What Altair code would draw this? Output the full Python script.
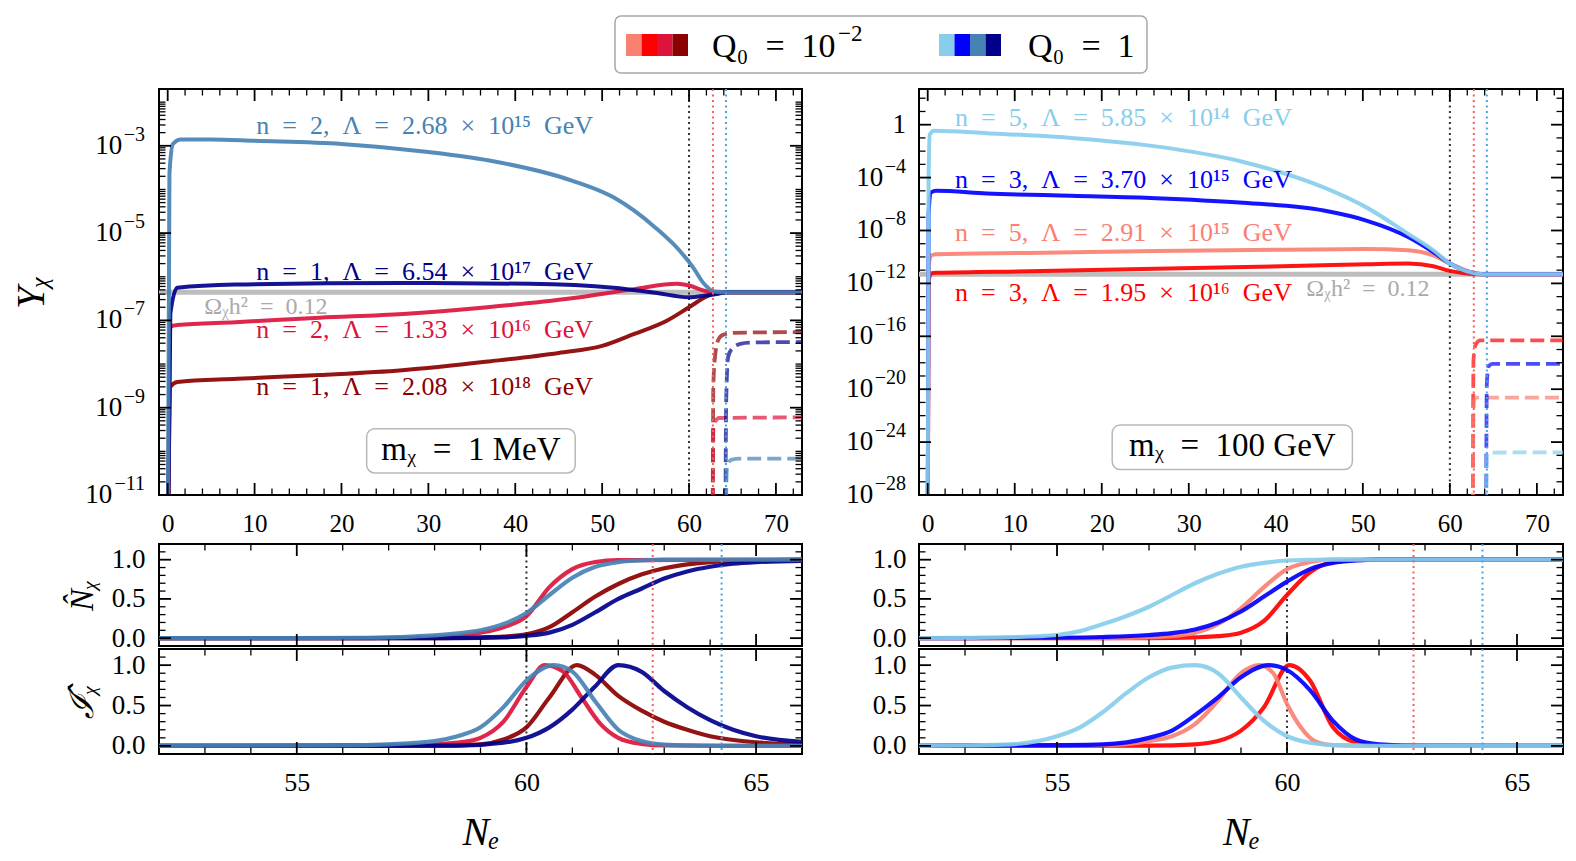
import altair as alt
import pandas as pd

# ----------------------------------------------------------------------------
# DATA
# ----------------------------------------------------------------------------
C_SALMON, C_RED, C_CRIMSON, C_DARKRED = "#FA8072", "#FF0000", "#DC143C", "#8B0000"
C_SKY, C_BLUE, C_STEEL, C_NAVY = "#87CEEB", "#0000FF", "#4682B4", "#00008B"
legend_colors_q2 = [C_SALMON, C_RED, C_CRIMSON, C_DARKRED]
legend_colors_q1 = [C_SKY, C_BLUE, C_STEEL, C_NAVY]

N_black, N_red, N_blue = 60.0, 62.75, 64.25

# ---- left column : m_chi = 1 MeV, top panel Y_chi ----
tl_omega = 4.4e-7
tl_darkred_N = [0.0, 0.3, 1.1, 8, 17.5, 27, 37, 45, 50, 53.7, 57.5, 60, 62.1, 63.5, 73]
tl_darkred_Y = [1e-13, 3.0e-9, 3.9e-9, 4.6e-9, 5.6e-9, 7.2e-9, 1.15e-8, 1.8e-8, 2.6e-8, 4.9e-8, 1.0e-7, 2.0e-7, 3.6e-7, 4.4e-7, 4.4e-7]
tl_crimson_N = [0.0, 0.3, 1.1, 7.8, 17.5, 27.1, 36.8, 46.5, 53.7, 58.6, 60, 61.9, 63.4, 64.5, 73]
tl_crimson_Y = [1e-13, 7.1e-8, 7.8e-8, 9.1e-8, 1.15e-7, 1.4e-7, 2.0e-7, 3.2e-7, 5.2e-7, 6.9e-7, 6.3e-7, 4.7e-7, 4.3e-7, 4.4e-7, 4.4e-7]
tl_navy_N = [0.0, 0.3, 1.1, 7.8, 27, 41.6, 51.3, 56.1, 60, 61.9, 63.4, 64.5, 73]
tl_navy_Y = [1e-13, 1.4e-7, 5.6e-7, 6.6e-7, 7.2e-7, 6.9e-7, 5.6e-7, 4.3e-7, 3.4e-7, 3.7e-7, 4.1e-7, 4.4e-7, 4.4e-7]
tl_steel_N = [0.0, 0.2, 0.6, 1.5, 5, 10, 20, 30, 37, 46.5, 51.3, 56.1, 59, 60.5, 61.7, 62.9, 64.3, 73]
tl_steel_Y = [1e-13, 2.2e-4, 1.1e-3, 1.4e-3, 1.4e-3, 1.3e-3, 1.1e-3, 7.2e-4, 4.6e-4, 1.6e-4, 6.6e-5, 1.35e-5, 3.8e-6, 1.6e-6, 7e-7, 4.6e-7, 4.4e-7, 4.4e-7]
tl_darkred_d_N = [62.70, 62.80, 63.07, 63.26, 63.84, 65.2, 73]
tl_darkred_d_Y = [1e-13, 3.5e-9, 2.0e-8, 3.2e-8, 4.6e-8, 5.2e-8, 5.4e-8]
tl_crimson_d_N = [62.70, 62.80, 63.07, 63.45, 73]
tl_crimson_d_Y = [1e-13, 3.1e-10, 5.0e-10, 5.8e-10, 6.0e-10]
tl_navy_d_N = [64.15, 64.28, 64.5, 64.9, 65.9, 67, 73]
tl_navy_d_Y = [1e-13, 1.5e-9, 1.45e-8, 2.2e-8, 2.9e-8, 3.1e-8, 3.2e-8]
tl_steel_d_N = [64.15, 64.35, 64.5, 64.9, 65.9, 73]
tl_steel_d_Y = [1e-13, 3.7e-11, 5.2e-11, 6.5e-11, 6.8e-11, 6.8e-11]

# ---- right column : m_chi = 100 GeV, top panel Y_chi ----
tr_omega = 5.0e-12
tr_red_N = [0.0, 0.1, 0.39, 0.97, 11.6, 26.2, 40.7, 50.4, 55.2, 58.1, 60, 62, 63.4, 73]
tr_red_Y = [1e-32, 1.3e-12, 5.6e-12, 6.3e-12, 8.3e-12, 1.26e-11, 2.0e-11, 2.8e-11, 3.2e-11, 2.0e-11, 8.9e-12, 5.6e-12, 5.0e-12, 5.0e-12]
tr_salmon_N = [0.0, 0.1, 0.39, 0.97, 11.6, 26.2, 40.7, 50.4, 55.2, 58.1, 60, 62, 63.4, 73]
tr_salmon_Y = [1e-32, 1.8e-11, 1.3e-10, 1.6e-10, 2.0e-10, 2.8e-10, 3.5e-10, 4.0e-10, 3.2e-10, 1.3e-10, 3.2e-11, 8.9e-12, 5.0e-12, 5.0e-12]
tr_blue_N = [0.0, 0.1, 0.39, 0.97, 6.8, 16.5, 26.2, 35.8, 45.5, 50.4, 55.2, 58.1, 60, 62, 63.9, 73]
tr_blue_Y = [1e-32, 1.8e-7, 7.6e-6, 1.0e-5, 6.3e-6, 4.2e-6, 2.8e-6, 1.3e-6, 3.2e-7, 5.6e-8, 3.2e-9, 2.3e-10, 3.2e-11, 7.9e-12, 5.0e-12, 5.0e-12]
tr_sky_N = [0.0, 0.1, 0.24, 0.73, 6.8, 16.5, 26.2, 35.8, 45.5, 50.4, 55.2, 58.1, 60, 62, 63.9, 73]
tr_sky_Y = [1e-32, 5.6e-5, 0.18, 0.35, 0.23, 0.1, 0.023, 1.8e-3, 1.8e-5, 5.6e-7, 5.6e-9, 3.2e-10, 3.2e-11, 7.9e-12, 5.0e-12, 5.0e-12]
tr_red_d_N = [62.62, 62.72, 62.96, 63.5, 73]
tr_red_d_Y = [1e-32, 1.7e-18, 2.3e-17, 5.0e-17, 5.0e-17]
tr_salmon_d_N = [62.62, 62.75, 62.96, 73]
tr_salmon_d_Y = [1e-32, 1e-21, 2.3e-21, 2.3e-21]
tr_blue_d_N = [64.15, 64.25, 64.45, 64.9, 73]
tr_blue_d_Y = [1e-32, 2.8e-20, 5.5e-19, 8.3e-19, 8.3e-19]
tr_sky_d_N = [64.15, 64.25, 64.4, 73]
tr_sky_d_Y = [1e-32, 8e-26, 1.6e-25, 1.7e-25]

# ---- left column, normalised number N-hat ----
bl_n_darkred_N = [52, 58, 59, 59.5, 60, 60.5, 61, 61.5, 62, 62.5, 63, 63.5, 64, 65, 66]
bl_n_darkred_V = [0, 0, 0.01, 0.02, 0.05, 0.14, 0.33, 0.53, 0.69, 0.81, 0.89, 0.94, 0.97, 0.99, 1.0]
bl_n_crimson_N = [52, 56, 57.5, 58.5, 59, 59.5, 60, 60.5, 61, 61.5, 62, 66]
bl_n_crimson_V = [0, 0, 0.005, 0.03, 0.07, 0.14, 0.28, 0.65, 0.88, 0.97, 0.995, 1.0]
bl_n_navy_N = [52, 58.5, 59.5, 60, 60.5, 61, 61.5, 62, 62.5, 63, 63.5, 64, 64.5, 65, 66]
bl_n_navy_V = [0, 0, 0.01, 0.03, 0.07, 0.17, 0.33, 0.5, 0.63, 0.76, 0.85, 0.91, 0.95, 0.97, 0.985]
bl_n_steel_N = [52, 55, 56.5, 57.5, 58, 58.5, 59, 59.5, 60, 60.5, 61, 61.5, 62, 62.5, 63, 66]
bl_n_steel_V = [0, 0, 0.005, 0.02, 0.035, 0.06, 0.1, 0.18, 0.32, 0.55, 0.77, 0.91, 0.97, 0.99, 1.0, 1.0]
# ---- left column, normalised rate I-hat ----
bl_i_darkred_N = [52, 58, 59, 59.5, 60, 60.5, 61.1, 61.5, 62, 62.5, 63, 63.5, 64, 65, 66]
bl_i_darkred_V = [0, 0.003, 0.02, 0.08, 0.23, 0.6, 1.0, 0.88, 0.62, 0.44, 0.3, 0.2, 0.12, 0.045, 0.02]
bl_i_crimson_N = [52, 57.5, 58.5, 59, 59.5, 60, 60.4, 60.8, 61.2, 61.6, 62, 62.5, 63, 66]
bl_i_crimson_V = [0, 0.005, 0.04, 0.1, 0.3, 0.73, 1.0, 0.92, 0.6, 0.28, 0.1, 0.025, 0.005, 0]
bl_i_navy_N = [52, 58.5, 59.5, 60, 60.5, 61, 61.5, 62, 62.5, 63, 63.5, 64, 64.5, 65, 66]
bl_i_navy_V = [0, 0.003, 0.04, 0.1, 0.23, 0.45, 0.74, 1.0, 0.92, 0.68, 0.48, 0.32, 0.2, 0.12, 0.05]
bl_i_steel_N = [52, 56, 57, 58, 58.5, 59, 59.5, 60, 60.6, 61, 61.5, 62, 62.5, 63, 64, 66]
bl_i_steel_V = [0, 0.005, 0.02, 0.06, 0.12, 0.23, 0.48, 0.81, 1.0, 0.92, 0.55, 0.2, 0.06, 0.015, 0.002, 0]

# ---- right column, normalised number N-hat ----
br_n_red_N = [52, 57, 58, 58.5, 59, 59.5, 60, 60.5, 61, 61.5, 62, 66]
br_n_red_V = [0, 0, 0.01, 0.025, 0.07, 0.22, 0.55, 0.84, 0.97, 0.995, 1.0, 1.0]
br_n_salmon_N = [52, 56, 57, 57.5, 58, 58.5, 59, 59.5, 60, 60.5, 61, 66]
br_n_salmon_V = [0, 0, 0.01, 0.025, 0.07, 0.18, 0.38, 0.65, 0.88, 0.97, 1.0, 1.0]
br_n_blue_N = [52, 54, 55, 56, 57, 57.5, 58, 58.5, 59, 59.5, 60, 60.5, 61, 61.5, 62, 66]
br_n_blue_V = [0, 0.002, 0.005, 0.015, 0.04, 0.065, 0.11, 0.2, 0.34, 0.53, 0.72, 0.88, 0.96, 0.99, 1.0, 1.0]
br_n_sky_N = [52, 53, 54, 55, 55.5, 56, 56.5, 57, 57.5, 58, 58.5, 59, 59.5, 60, 61, 66]
br_n_sky_V = [0, 0.003, 0.012, 0.04, 0.09, 0.18, 0.28, 0.4, 0.55, 0.7, 0.82, 0.91, 0.96, 0.99, 1.0, 1.0]
# ---- right column, normalised rate I-hat ----
br_i_red_N = [52, 57, 58, 58.5, 59, 59.5, 60.05, 60.5, 61, 61.5, 62, 66]
br_i_red_V = [0, 0.003, 0.02, 0.06, 0.19, 0.48, 1.0, 0.81, 0.23, 0.04, 0.005, 0]
br_i_salmon_N = [52, 56, 57, 57.5, 58, 58.5, 59, 59.4, 59.7, 60, 60.3, 60.6, 61, 62, 66]
br_i_salmon_V = [0, 0.01, 0.06, 0.12, 0.27, 0.56, 0.9, 1.0, 0.9, 0.52, 0.23, 0.06, 0.01, 0, 0]
br_i_blue_N = [52, 55, 56, 57, 57.5, 58, 58.5, 59, 59.6, 60, 60.5, 61, 61.5, 62, 63, 66]
br_i_blue_V = [0, 0.01, 0.02, 0.1, 0.19, 0.38, 0.6, 0.85, 1.0, 0.94, 0.69, 0.31, 0.08, 0.02, 0, 0]
br_i_sky_N = [52, 53, 54, 55, 55.5, 56, 56.5, 57, 57.5, 58, 58.5, 59, 59.5, 60, 60.5, 61, 62, 66]
br_i_sky_V = [0, 0.005, 0.02, 0.12, 0.23, 0.42, 0.65, 0.85, 0.97, 1.0, 0.9, 0.6, 0.31, 0.12, 0.04, 0.01, 0, 0]

SUP = str.maketrans("0123456789-", "⁰¹²³⁴⁵⁶⁷⁸⁹⁻")
EN = "\u2002"


def sup(v):
    return str(v).translate(SUP)


def lam_label(n, mant, ex):
    return f"n{EN}={EN}{n},{EN}Λ{EN}={EN}{mant}{EN}×{EN}10{sup(ex)}{EN}GeV"


tl_label_text = [lam_label(2, "2.68", 15), lam_label(1, "6.54", 17), lam_label(2, "1.33", 16), lam_label(1, "2.08", 18)]
tl_label_color = [C_STEEL, C_NAVY, C_CRIMSON, C_DARKRED]
tl_label_N = [10.2, 10.2, 10.2, 10.2]
tl_label_Y = [2.9e-3, 1.26e-6, 5.9e-8, 3.0e-9]
tr_label_text = [lam_label(5, "5.85", 14), lam_label(3, "3.70", 15), lam_label(5, "2.91", 15), lam_label(3, "1.95", 16)]
tr_label_color = [C_SKY, C_BLUE, C_SALMON, C_RED]
tr_label_N = [3.15, 3.15, 3.15, 3.15]
tr_label_Y = [3.2, 6.3e-5, 6.3e-9, 1.8e-13]
omega_text = f"Ωᵪh²{EN}={EN}0.12"

# ----------------------------------------------------------------------------
# STYLE / LAYOUT
# ----------------------------------------------------------------------------
SERIF = "Liberation Serif"
W_L, W_R = 643, 644
H_TOP, H_B1, H_B2 = 406, 102, 105
LW = 4.0

xs_top = alt.Scale(domain=[-1, 73], nice=False, zero=False)
ys_L = alt.Scale(type="log", domain=[1e-11, 2e-2], nice=False)
ys_R = alt.Scale(type="log", domain=[1e-28, 5e2], nice=False)
xs_bot = alt.Scale(domain=[52, 66], nice=False, zero=False)
ys_bot = alt.Scale(domain=[-0.1, 1.2], nice=False, zero=False)


def base_axis(**kw):
    d = dict(ticks=False, tickSize=0, domain=False, grid=False, labelFont=SERIF,
             labelFontSize=26, labelColor="black", labelFlush=False, labelOverlap=False,
             titleFont=SERIF, titleColor="black", titleFontWeight="normal")
    d.update(kw)
    return alt.Axis(**d)


class Panel:
    """Collects the layers of one panel; every layer carries the same axes."""

    def __init__(self, xs, ys, xaxis, yaxis, W, H):
        self.xs, self.ys, self.xa, self.ya, self.W, self.H = xs, ys, xaxis, yaxis, W, H
        self.layers = []

    def X(self, f):
        return alt.X(f, scale=self.xs, axis=self.xa)

    def Y(self, f):
        return alt.Y(f, scale=self.ys, axis=self.ya)

    def curve(self, N, V, color, dash=None, width=LW, opacity=0.92):
        kw = dict(color=color, strokeWidth=width, opacity=opacity, clip=True, interpolate="monotone")
        if dash is not None:
            kw["strokeDash"] = dash
        self.layers.append(alt.Chart(pd.DataFrame({"N": N, "V": V})).mark_line(**kw).encode(
            x=self.X("N:Q"), y=self.Y("V:Q")))

    def vrule(self, xval, color):
        self.layers.append(alt.Chart(pd.DataFrame({"N": [xval]})).mark_rule(
            color=color, strokeWidth=2, strokeDash=[2, 3.5]).encode(x=self.X("N:Q")))

    def hrule(self, yval):
        self.layers.append(alt.Chart(pd.DataFrame({"V": [yval]})).mark_rule(
            color="#bdbdbd", strokeWidth=5).encode(y=self.Y("V:Q")))

    def texts(self, Ns, Vs, txt, colors, size=26, align="left"):
        df = pd.DataFrame({"N": Ns, "V": Vs, "t": txt, "c": colors})
        self.layers.append(alt.Chart(df).mark_text(align=align, baseline="middle", font=SERIF,
                                                   fontSize=size).encode(
            x=self.X("N:Q"), y=self.Y("V:Q"), text="t:N", color=alt.Color("c:N", scale=None)))

    def box(self, x1, x2, y1, y2):
        df = pd.DataFrame({"a": [x1], "b": [x2], "c": [y1], "d": [y2]})
        self.layers.append(alt.Chart(df).mark_rect(fill="white", stroke="#b8b8b8", strokeWidth=1.5,
                                                   cornerRadius=8).encode(
            x=self.X("a:Q"), x2="b:Q", y=self.Y("c:Q"), y2="d:Q"))

    def log_labels(self, exps, pad, base=27, exs=20, lift=11):
        """Tick labels 10^e drawn as '10' plus a raised, smaller exponent."""
        groups = {}
        for e in exps:
            if e == 0:
                groups.setdefault(("1", 0.0), []).append(1.0)
                continue
            digits = str(abs(e))
            w = exs * (0.564 + 0.5 * len(digits)) + 1.5
            groups.setdefault(("10", w), []).append(10.0 ** e)
            df = pd.DataFrame({"v": [10.0 ** e], "t": ["−" + digits]})
            self.layers.append(alt.Chart(df).mark_text(
                align="right", baseline="middle", font=SERIF, fontSize=exs, dy=-lift, color="black").encode(
                y=self.Y("v:Q"), x=alt.value(-pad), text="t:N"))
        for (txt, w), vals in groups.items():
            df = pd.DataFrame({"v": vals, "t": [txt] * len(vals)})
            self.layers.append(alt.Chart(df).mark_text(
                align="right", baseline="middle", font=SERIF, fontSize=base, color="black").encode(
                y=self.Y("v:Q"), x=alt.value(-pad - w), text="t:N"))

    def ticks(self, xmaj, xmin, ymaj, ymin):
        W, H = self.W, self.H
        for vals, L, sw in [(xmaj, 12, 1.8), (xmin, 6.5, 1.3)]:
            b = alt.Chart(pd.DataFrame({"v": vals})).mark_rule(color="black", strokeWidth=sw)
            self.layers.append(b.encode(x=self.X("v:Q"), y=alt.value(H), y2=alt.value(H - L)))
            self.layers.append(b.encode(x=self.X("v:Q"), y=alt.value(0), y2=alt.value(L)))
        for vals, L, sw in [(ymaj, 12, 1.8), (ymin, 6.5, 1.3)]:
            b = alt.Chart(pd.DataFrame({"v": vals})).mark_rule(color="black", strokeWidth=sw)
            self.layers.append(b.encode(y=self.Y("v:Q"), x=alt.value(0), x2=alt.value(L)))
            self.layers.append(b.encode(y=self.Y("v:Q"), x=alt.value(W), x2=alt.value(W - L)))

    def marker(self, px, py):
        # invisible anchor fixing the panel's layout bounds
        self.layers.append(alt.Chart(pd.DataFrame({"a": [0]})).mark_rule(
            strokeOpacity=0, strokeWidth=0.5).encode(
            x=alt.value(px), x2=alt.value(px), y=alt.value(py), y2=alt.value(py + 0.5)))

    def chart(self):
        return alt.layer(*self.layers).properties(width=self.W, height=self.H)


top_xmaj = list(range(0, 71, 10))
top_xmin = [v for v in range(0, 73, 2) if v % 10 != 0]
L_exps = list(range(-11, -2, 2))
L_ymaj = [10.0 ** e for e in L_exps]
L_ymin = [m * 10.0 ** e for e in range(-11, -1) for m in range(1, 10)
          if not (m == 1 and e in L_exps) and 1e-11 < m * 10.0 ** e < 2e-2]
R_exps = list(range(-28, 1, 4))
R_ymaj = [10.0 ** e for e in R_exps]
R_ymin = [10.0 ** e for e in range(-27, 3) if e not in R_exps]
bot_xmaj = [55, 60, 65]
bot_xmin = [53, 54, 56, 57, 58, 59, 61, 62, 63, 64]
bot_ymaj = [0.0, 0.5, 1.0]
bot_ymin = [0.1, 0.2, 0.3, 0.4, 0.6, 0.7, 0.8, 0.9, 1.1]

LEFT_EXT, RIGHT_COL_EXT = 158, 112
DASH = [14, 6]

# ---------------- top-left ----------------
ax_x_top = base_axis(values=top_xmaj, labelPadding=16, labelFontSize=25, title=None)
ax_y_TL = base_axis(values=L_ymaj, labels=False, minExtent=70, maxExtent=70, title="Yᵪ",
                    titleFontSize=40, titleFontStyle="italic", titlePadding=38)
p = Panel(xs_top, ys_L, ax_x_top, ax_y_TL, W_L, H_TOP)
p.hrule(tl_omega)
p.vrule(N_black, "#333333")
p.curve(tl_darkred_N, tl_darkred_Y, C_DARKRED)
p.curve(tl_crimson_N, tl_crimson_Y, C_CRIMSON)
p.curve(tl_navy_N, tl_navy_Y, C_NAVY)
p.curve(tl_steel_N, tl_steel_Y, C_STEEL)
for N, Y, c in [(tl_darkred_d_N, tl_darkred_d_Y, C_DARKRED), (tl_crimson_d_N, tl_crimson_d_Y, C_CRIMSON),
                (tl_navy_d_N, tl_navy_d_Y, C_NAVY), (tl_steel_d_N, tl_steel_d_Y, C_STEEL)]:
    p.curve(N, Y, c, dash=DASH, width=3.8, opacity=0.7)
p.vrule(N_red, "#F4605A")
p.vrule(N_blue, "#4DA3DB")
p.texts(tl_label_N, tl_label_Y, tl_label_text, tl_label_color)
p.texts([4.2], [2.0e-7], [omega_text], ["#aaaaaa"], size=24)
p.box(22.9, 46.9, 3.3e-10, 3.2e-11)
p.texts([34.9], [1.07e-10], [f"mᵪ{EN}={EN}1 MeV"], ["black"], size=33, align="center")
p.ticks(top_xmaj, top_xmin, L_ymaj, L_ymin)
p.log_labels(L_exps, pad=14)
p.marker(-LEFT_EXT, 10)
p.marker(W_L + 3, 10)
p.marker(10, H_TOP + 45)
topL = p.chart()

# ---------------- top-right ----------------
ax_y_TR = base_axis(values=R_ymaj, labels=False, title=None)
p = Panel(xs_top, ys_R, ax_x_top, ax_y_TR, W_R, H_TOP)
p.hrule(tr_omega)
p.vrule(N_black, "#333333")
p.curve(tr_red_N, tr_red_Y, C_RED)
p.curve(tr_salmon_N, tr_salmon_Y, C_SALMON)
p.curve(tr_blue_N, tr_blue_Y, C_BLUE)
p.curve(tr_sky_N, tr_sky_Y, C_SKY)
for N, Y, c in [(tr_red_d_N, tr_red_d_Y, C_RED), (tr_salmon_d_N, tr_salmon_d_Y, C_SALMON),
                (tr_blue_d_N, tr_blue_d_Y, C_BLUE), (tr_sky_d_N, tr_sky_d_Y, C_SKY)]:
    p.curve(N, Y, c, dash=DASH, width=3.8, opacity=0.7)
p.vrule(N_red, "#F4605A")
p.vrule(N_blue, "#4DA3DB")
p.texts(tr_label_N, tr_label_Y, tr_label_text, tr_label_color)
p.texts([43.5], [4.0e-13], [omega_text], ["#aaaaaa"], size=24)
p.box(21.2, 48.8, 2.0e-23, 8.3e-27)
p.texts([35.0], [5.0e-25], [f"mᵪ{EN}={EN}100 GeV"], ["black"], size=33, align="center")
p.ticks(top_xmaj, top_xmin, R_ymaj, R_ymin)
p.log_labels(R_exps, pad=13)
p.marker(-RIGHT_COL_EXT, 10)
p.marker(10, H_TOP + 45)
topR = p.chart()


# ---------------- bottom panels ----------------
def bottom_panel(W, H, series, xaxis, yaxis, left_ext, right_mark):
    q = Panel(xs_bot, ys_bot, xaxis, yaxis, W, H)
    q.vrule(N_black, "#333333")
    for N, V, c in series:
        q.curve(N, V, c, width=4.2)
    q.vrule(N_red, "#F4605A")
    q.vrule(N_blue, "#4DA3DB")
    q.ticks(bot_xmaj, bot_xmin, bot_ymaj, bot_ymin)
    q.marker(-left_ext, 50)
    if right_mark:
        q.marker(W + 3, 50)
    return q.chart()


def ax_x_bottom(show):
    if show:
        return base_axis(values=bot_xmaj, labelPadding=15, minExtent=42, maxExtent=42,
                         title="Nₑ", titleFontSize=40, titleFontStyle="italic", titlePadding=16)
    return base_axis(values=bot_xmaj, labels=False, title=None)


def ax_y_bot(title):
    if title:
        return base_axis(values=bot_ymaj, format=".1f", labelPadding=14, labelFontSize=27,
                         minExtent=50, maxExtent=50, title=title, titleFontSize=33,
                         titleFontStyle="italic", titlePadding=10)
    return base_axis(values=bot_ymaj, format=".1f", labelPadding=13, labelFontSize=27, title=None)


b1L = bottom_panel(W_L, H_B1, [(bl_n_darkred_N, bl_n_darkred_V, C_DARKRED),
                               (bl_n_crimson_N, bl_n_crimson_V, C_CRIMSON),
                               (bl_n_navy_N, bl_n_navy_V, C_NAVY),
                               (bl_n_steel_N, bl_n_steel_V, C_STEEL)],
                   ax_x_bottom(False), ax_y_bot("N\u0302ᵪ"), LEFT_EXT, True)
b2L = bottom_panel(W_L, H_B2, [(bl_i_darkred_N, bl_i_darkred_V, C_DARKRED),
                               (bl_i_crimson_N, bl_i_crimson_V, C_CRIMSON),
                               (bl_i_navy_N, bl_i_navy_V, C_NAVY),
                               (bl_i_steel_N, bl_i_steel_V, C_STEEL)],
                   ax_x_bottom(True), ax_y_bot("\u2110\u0302ᵪ"), LEFT_EXT, True)
b1R = bottom_panel(W_R, H_B1, [(br_n_red_N, br_n_red_V, C_RED),
                               (br_n_salmon_N, br_n_salmon_V, C_SALMON),
                               (br_n_blue_N, br_n_blue_V, C_BLUE),
                               (br_n_sky_N, br_n_sky_V, C_SKY)],
                   ax_x_bottom(False), ax_y_bot(None), RIGHT_COL_EXT, False)
b2R = bottom_panel(W_R, H_B2, [(br_i_red_N, br_i_red_V, C_RED),
                               (br_i_salmon_N, br_i_salmon_V, C_SALMON),
                               (br_i_blue_N, br_i_blue_V, C_BLUE),
                               (br_i_sky_N, br_i_sky_V, C_SKY)],
                   ax_x_bottom(True), ax_y_bot(None), RIGHT_COL_EXT, False)

# ---------------- legend (above the panels) ----------------
dummy = pd.DataFrame({"a": [0]})


def leg_marker(px, py):
    return alt.Chart(dummy).mark_rule(strokeOpacity=0, strokeWidth=0.5).encode(
        x=alt.value(px), x2=alt.value(px), y=alt.value(py), y2=alt.value(py + 0.5))


leg_layers = [
    leg_marker(-LEFT_EXT, -16),
    leg_marker(10, 70.5),
    alt.Chart(dummy).mark_rect(fill="white", stroke="#a8a8a8", strokeWidth=1.5, cornerRadius=6).encode(
        x=alt.value(456), x2=alt.value(988), y=alt.value(0), y2=alt.value(57)),
]
for i, c in enumerate(legend_colors_q2):
    leg_layers.append(alt.Chart(dummy).mark_rect(color=c).encode(
        x=alt.value(467 + 15.5 * i), x2=alt.value(467 + 15.5 * (i + 1)), y=alt.value(18), y2=alt.value(40)))
for i, c in enumerate(legend_colors_q1):
    leg_layers.append(alt.Chart(dummy).mark_rect(color=c).encode(
        x=alt.value(780 + 15.5 * i), x2=alt.value(780 + 15.5 * (i + 1)), y=alt.value(18), y2=alt.value(40)))
leg_text = dict(align="left", baseline="middle", font=SERIF, color="black")
leg_layers.append(alt.Chart(dummy).mark_text(fontSize=34, **leg_text).encode(
    x=alt.value(553), y=alt.value(31), text=alt.value(f"Q₀{EN}={EN}10")))
leg_layers.append(alt.Chart(dummy).mark_text(fontSize=23, **leg_text).encode(
    x=alt.value(553 + 126), y=alt.value(18), text=alt.value("−2")))
leg_layers.append(alt.Chart(dummy).mark_text(fontSize=34, **leg_text).encode(
    x=alt.value(869), y=alt.value(31), text=alt.value(f"Q₀{EN}={EN}1")))
legend = alt.layer(*leg_layers).properties(width=1402, height=57,
                                           view=alt.ViewBackground(strokeOpacity=0))

# ---------------- assemble ----------------
colL = alt.vconcat(topL, alt.vconcat(b1L, b2L, spacing=3, bounds="flush"), spacing=0)
colR = alt.vconcat(topR, alt.vconcat(b1R, b2R, spacing=3, bounds="flush"), spacing=0)
body = alt.hconcat(colL, colR, spacing=0)

chart = alt.vconcat(legend, body, spacing=0).properties(
    padding=0
).configure_view(stroke="black", strokeWidth=2)

chart.save("out.html", embed_options={"renderer": "svg", "actions": False})
